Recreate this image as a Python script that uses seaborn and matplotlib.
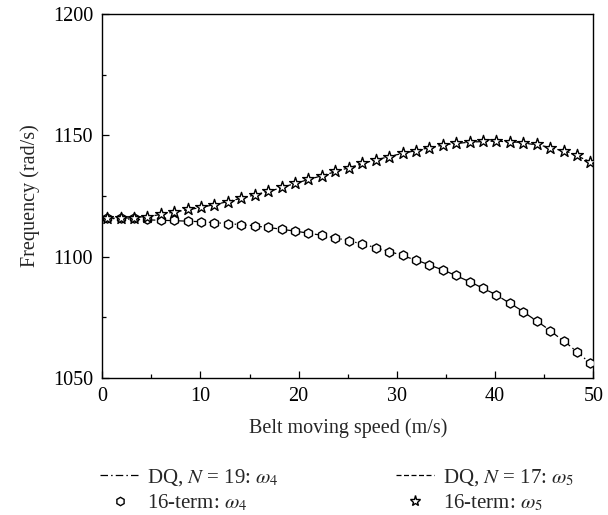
import matplotlib
matplotlib.use("Agg")
import matplotlib.pyplot as plt
from matplotlib.lines import Line2D
from matplotlib.ticker import MultipleLocator
import pandas as pd
import seaborn as sns

# DQ solutions (lines)
speed_dq = [0, 2.5, 5, 7.5, 10, 12.5, 15, 17.5, 20, 22.5, 25,
            27.5, 30, 32.5, 35, 37.5, 40, 42.5, 45, 47.5, 50]
omega4_dq19 = [1115.8, 1115.5, 1115.1, 1114.8, 1114.4, 1113.7, 1112.9, 1111.7,
               1110.3, 1108.7, 1106.7, 1104.1, 1101.2, 1097.8, 1094.0, 1089.5,
               1084.5, 1078.3, 1071.3, 1063.6, 1055.0]
omega5_dq17 = [1115.8, 1115.9, 1116.7, 1118.5, 1120.2, 1122.4, 1124.9, 1127.5,
               1130.6, 1133.5, 1136.5, 1139.5, 1142.0, 1144.2, 1146.2, 1147.2,
               1147.6, 1147.1, 1145.5, 1143.0, 1138.5]

# 16-term solutions (markers)
speed_16 = [0.5, 1.87, 3.23, 4.6, 5.97, 7.33, 8.7, 10.07, 11.43, 12.8, 14.17,
            15.53, 16.9, 18.27, 19.63, 21.0, 22.37, 23.73, 25.1, 26.47, 27.83,
            29.2, 30.57, 31.93, 33.3, 34.67, 36.03, 37.4, 38.77, 40.13, 41.5,
            42.87, 44.23, 45.6, 46.97, 48.33, 49.7]
omega4_16 = [1115.8, 1115.8, 1115.8, 1115.4, 1115.1, 1115.1, 1114.8, 1114.4,
             1114.0, 1113.6, 1113.2, 1112.6, 1112.1, 1111.3, 1110.6, 1109.6,
             1108.8, 1107.7, 1106.6, 1105.2, 1103.7, 1102.0, 1100.6, 1098.6,
             1096.7, 1094.5, 1092.4, 1089.7, 1087.0, 1084.2, 1081.0, 1077.3,
             1073.6, 1069.5, 1065.4, 1060.8, 1056.0]
omega5_16 = [1115.8, 1115.8, 1116.1, 1116.5, 1117.4, 1118.4, 1119.5, 1120.3,
             1121.4, 1122.7, 1124.0, 1125.4, 1127.1, 1128.6, 1130.2, 1131.9,
             1133.4, 1135.1, 1136.6, 1138.4, 1139.8, 1141.2, 1142.6, 1143.7,
             1144.9, 1146.0, 1146.7, 1147.2, 1147.5, 1147.7, 1147.4, 1147.0,
             1146.3, 1144.9, 1143.5, 1141.9, 1139.1]

labels = ["DQ, $N$ = 19: $\\omega_4$", "DQ, $N$ = 17: $\\omega_5$",
          "16-term: $\\omega_4$", "16-term: $\\omega_5$"]

sns.set_style("ticks")
plt.rcParams["font.family"] = ["Liberation Serif", "DejaVu Serif"]
plt.rcParams["mathtext.fontset"] = "stix"

dq = pd.DataFrame({"speed": speed_dq, "w4": omega4_dq19, "w5": omega5_dq17})
terms = pd.DataFrame({"speed": speed_16, "w4": omega4_16, "w5": omega5_16})

fig = plt.figure(figsize=(6.08, 5.15), dpi=100)
ax = fig.add_axes([0.168, 0.266, 0.808, 0.707])

dashdot = (0, (6, 2.5, 1.2, 2.5))
dashed = (0, (4, 2))

sns.lineplot(data=dq, x="speed", y="w4", ax=ax, color="black", lw=0.9,
             linestyle=dashdot)
sns.lineplot(data=dq, x="speed", y="w5", ax=ax, color="black", lw=0.9,
             linestyle=dashed)
sns.scatterplot(data=terms, x="speed", y="w4", ax=ax, marker="h", s=44,
                facecolor="white", edgecolor="black", linewidth=1.0, zorder=3)
sns.scatterplot(data=terms, x="speed", y="w5", ax=ax, marker="*", s=78,
                facecolor="white", edgecolor="black", linewidth=1.0, zorder=3)

ax.set_xlim(0, 50)
ax.set_ylim(1050, 1200)
ax.xaxis.set_major_locator(MultipleLocator(10))
ax.xaxis.set_minor_locator(MultipleLocator(5))
ax.yaxis.set_major_locator(MultipleLocator(50))
ax.yaxis.set_minor_locator(MultipleLocator(25))
ax.tick_params(which="both", direction="in", top=False, right=False,
               colors="black", labelsize=14.5, width=0.9)
ax.tick_params(which="major", length=5, pad=6.5)
ax.tick_params(which="minor", length=3)
for sp in ax.spines.values():
    sp.set_visible(True)
    sp.set_linewidth(1.0)
    sp.set_color("black")

ax.set_xlabel("Belt moving speed (m/s)", fontsize=14.5, labelpad=9)
ax.set_ylabel("Frequency (rad/s)", fontsize=14.5, labelpad=9)

handles = [
    Line2D([], [], color="black", lw=0.9, linestyle=dashdot),
    Line2D([], [], color="white", lw=0, marker="h", markersize=6,
           markerfacecolor="white", markeredgecolor="black"),
    Line2D([], [], color="black", lw=0.9, linestyle=dashed),
    Line2D([], [], color="white", lw=0, marker="*", markersize=8,
           markerfacecolor="white", markeredgecolor="black"),
]
fig.legend(handles, [labels[0], labels[2], labels[1], labels[3]],
           ncol=2, loc="center left", bbox_to_anchor=(0.148, 0.048),
           frameon=False, fontsize=15, handlelength=1.85, handletextpad=0.4,
           columnspacing=5.6, labelspacing=0.25, borderpad=0)

fig.savefig("out.png", dpi=100)
